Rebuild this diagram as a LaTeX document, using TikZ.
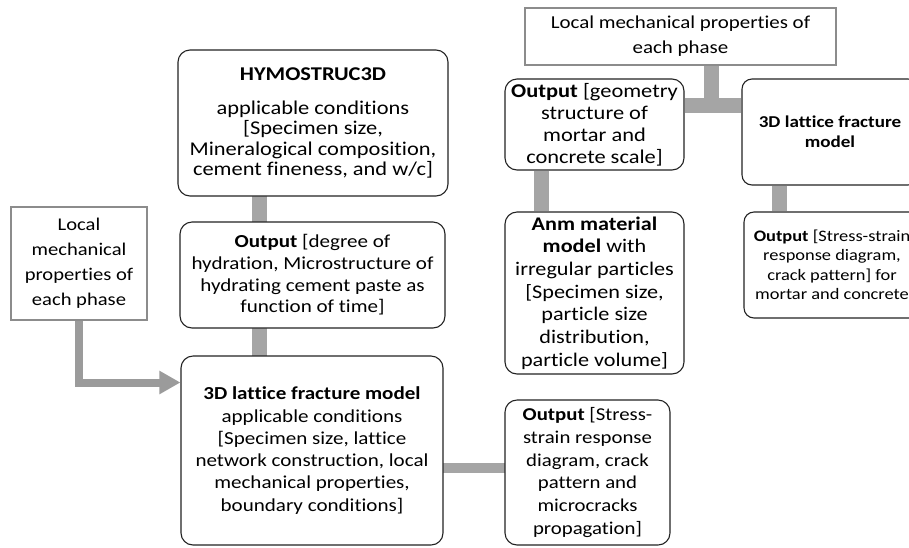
\documentclass[tikz,border=0pt]{standalone}
\usepackage{fontspec}
\setmainfont{Carlito}[FakeStretch=1.15,Ligatures={NoCommon,NoRare,NoDiscretionary}]
\usetikzlibrary{arrows.meta}
\definecolor{barc}{RGB}{165,165,165}
\definecolor{arrc}{RGB}{155,155,155}
\definecolor{edgec}{RGB}{35,35,35}
\definecolor{sqedgec}{RGB}{140,140,140}
\begin{document}
\begin{tikzpicture}[x=1pt,y=-1pt,
  rbox/.style={draw=edgec, line width=1.1pt, rounded corners=12pt, fill=white, align=center, inner sep=0pt},
  sbox/.style={draw=sqedgec, line width=2.4pt, fill=white, align=center, inner sep=0pt},
  fsz/.style 2 args={font=\fontsize{#1}{#2}\selectfont},
  barline/.style={draw=barc, line width=15pt},
  thinbar/.style={draw=barc, line width=10pt},
  arrowbar/.style={draw=arrc, line width=8pt, line join=miter, -{Triangle[length=21pt,width=22pt]}}]
\useasboundingbox (0,0) rectangle (909,547);
\clip (0,0) rectangle (909,547);
\fill[white] (0,0) rectangle (909,547);

% coordinates for connector positions
\coordinate (vx) at (259.5,0);
\coordinate (ay) at (0,382.5);
\coordinate (hy) at (0,468);
\coordinate (tx) at (711.5,0);
\coordinate (ty) at (0,105);
\coordinate (gx) at (541.5,0);
\coordinate (rx) at (779.5,0);

% connectors (drawn under nodes)
\draw[barline] (vx |- 0,196) -- (vx |- 0,222);
\draw[barline] (vx |- 0,328) -- (vx |- 0,356);
\draw[thinbar] (443,0 |- hy) -- (505,0 |- hy);

% nodes
\node[rbox, minimum width=270pt, minimum height=146pt, fsz={19.5}{20.5}] (hymo) at (313,123)
  {\textbf{HYMOSTRUC3D}\\[13pt] applicable conditions\\ {[}Specimen size,\\ Mineralogical composition,\\ cement fineness, and w/c]};
\node[rbox, minimum width=265pt, minimum height=106pt, fsz={18.3}{21.7}] (outh) at (312.5,275)
  {\textbf{Output} [degree of\\ hydration, Microstructure of\\ hydrating cement paste as\\ function of time]};
\node[rbox, minimum width=262pt, minimum height=189pt, fsz={18.3}{22.3}] (lat) at (312,450.5)
  {\textbf{3D lattice fracture model}\\ applicable conditions\\ {[}Specimen size, lattice\\ network construction, local\\ mechanical properties,\\ boundary conditions]};
\node[rbox, minimum width=165pt, minimum height=145pt, fsz={18.1}{22.7}] (outs) at (587.5,472.5)
  {\textbf{Output} [Stress-\\ strain response\\ diagram, crack\\ pattern and\\ microcracks\\ propagation]};
\node[sbox, minimum width=136pt, minimum height=113pt, fsz={17.9}{25}] (left) at (79,263.5)
  {Local\\ mechanical\\ properties of\\ each phase};
\node[sbox, minimum width=311pt, minimum height=57pt, fsz={18.2}{25}] (top) at (680.5,36.5)
  {Local mechanical properties of\\ each phase};
\node[rbox, minimum width=179pt, minimum height=91pt, fsz={19.5}{22}] (geo) at (594.5,124.5)
  {\textbf{Output} [geometry\\ structure of\\ mortar and\\ concrete scale]};
\node[rbox, rounded corners=10pt, minimum width=176pt, minimum height=106pt, fsz={16.6}{20}] (latr) at (830,132)
  {\textbf{3D lattice fracture}\\ \textbf{model}};
\node[rbox, minimum width=179pt, minimum height=162pt, fsz={19.3}{22.7}] (anm) at (594.5,293)
  {\textbf{Anm material}\\ \textbf{model} with\\ irregular particles\\ {[}Specimen size,\\ particle size\\ distribution,\\ particle volume]};
\node[rbox, rounded corners=10pt, minimum width=176pt, minimum height=106pt, fsz={16}{19.5}] (outr) at (832,265)
  {\textbf{Output} [Stress-strain\\ response diagram,\\ crack pattern] for\\ mortar and concrete};

% connectors between named nodes
\draw[arrowbar] (left.south) |- (lat.west |- ay);
\draw[barline] (top.south -| tx) -- (tx |- 0,112);
\draw[barline] (geo.east |- ty) -- (latr.west |- ty);
\draw[barline] (geo.south -| gx) -- (anm.north -| gx);
\draw[barline] (latr.south -| rx) -- (outr.north -| rx);
\end{tikzpicture}
\end{document}
